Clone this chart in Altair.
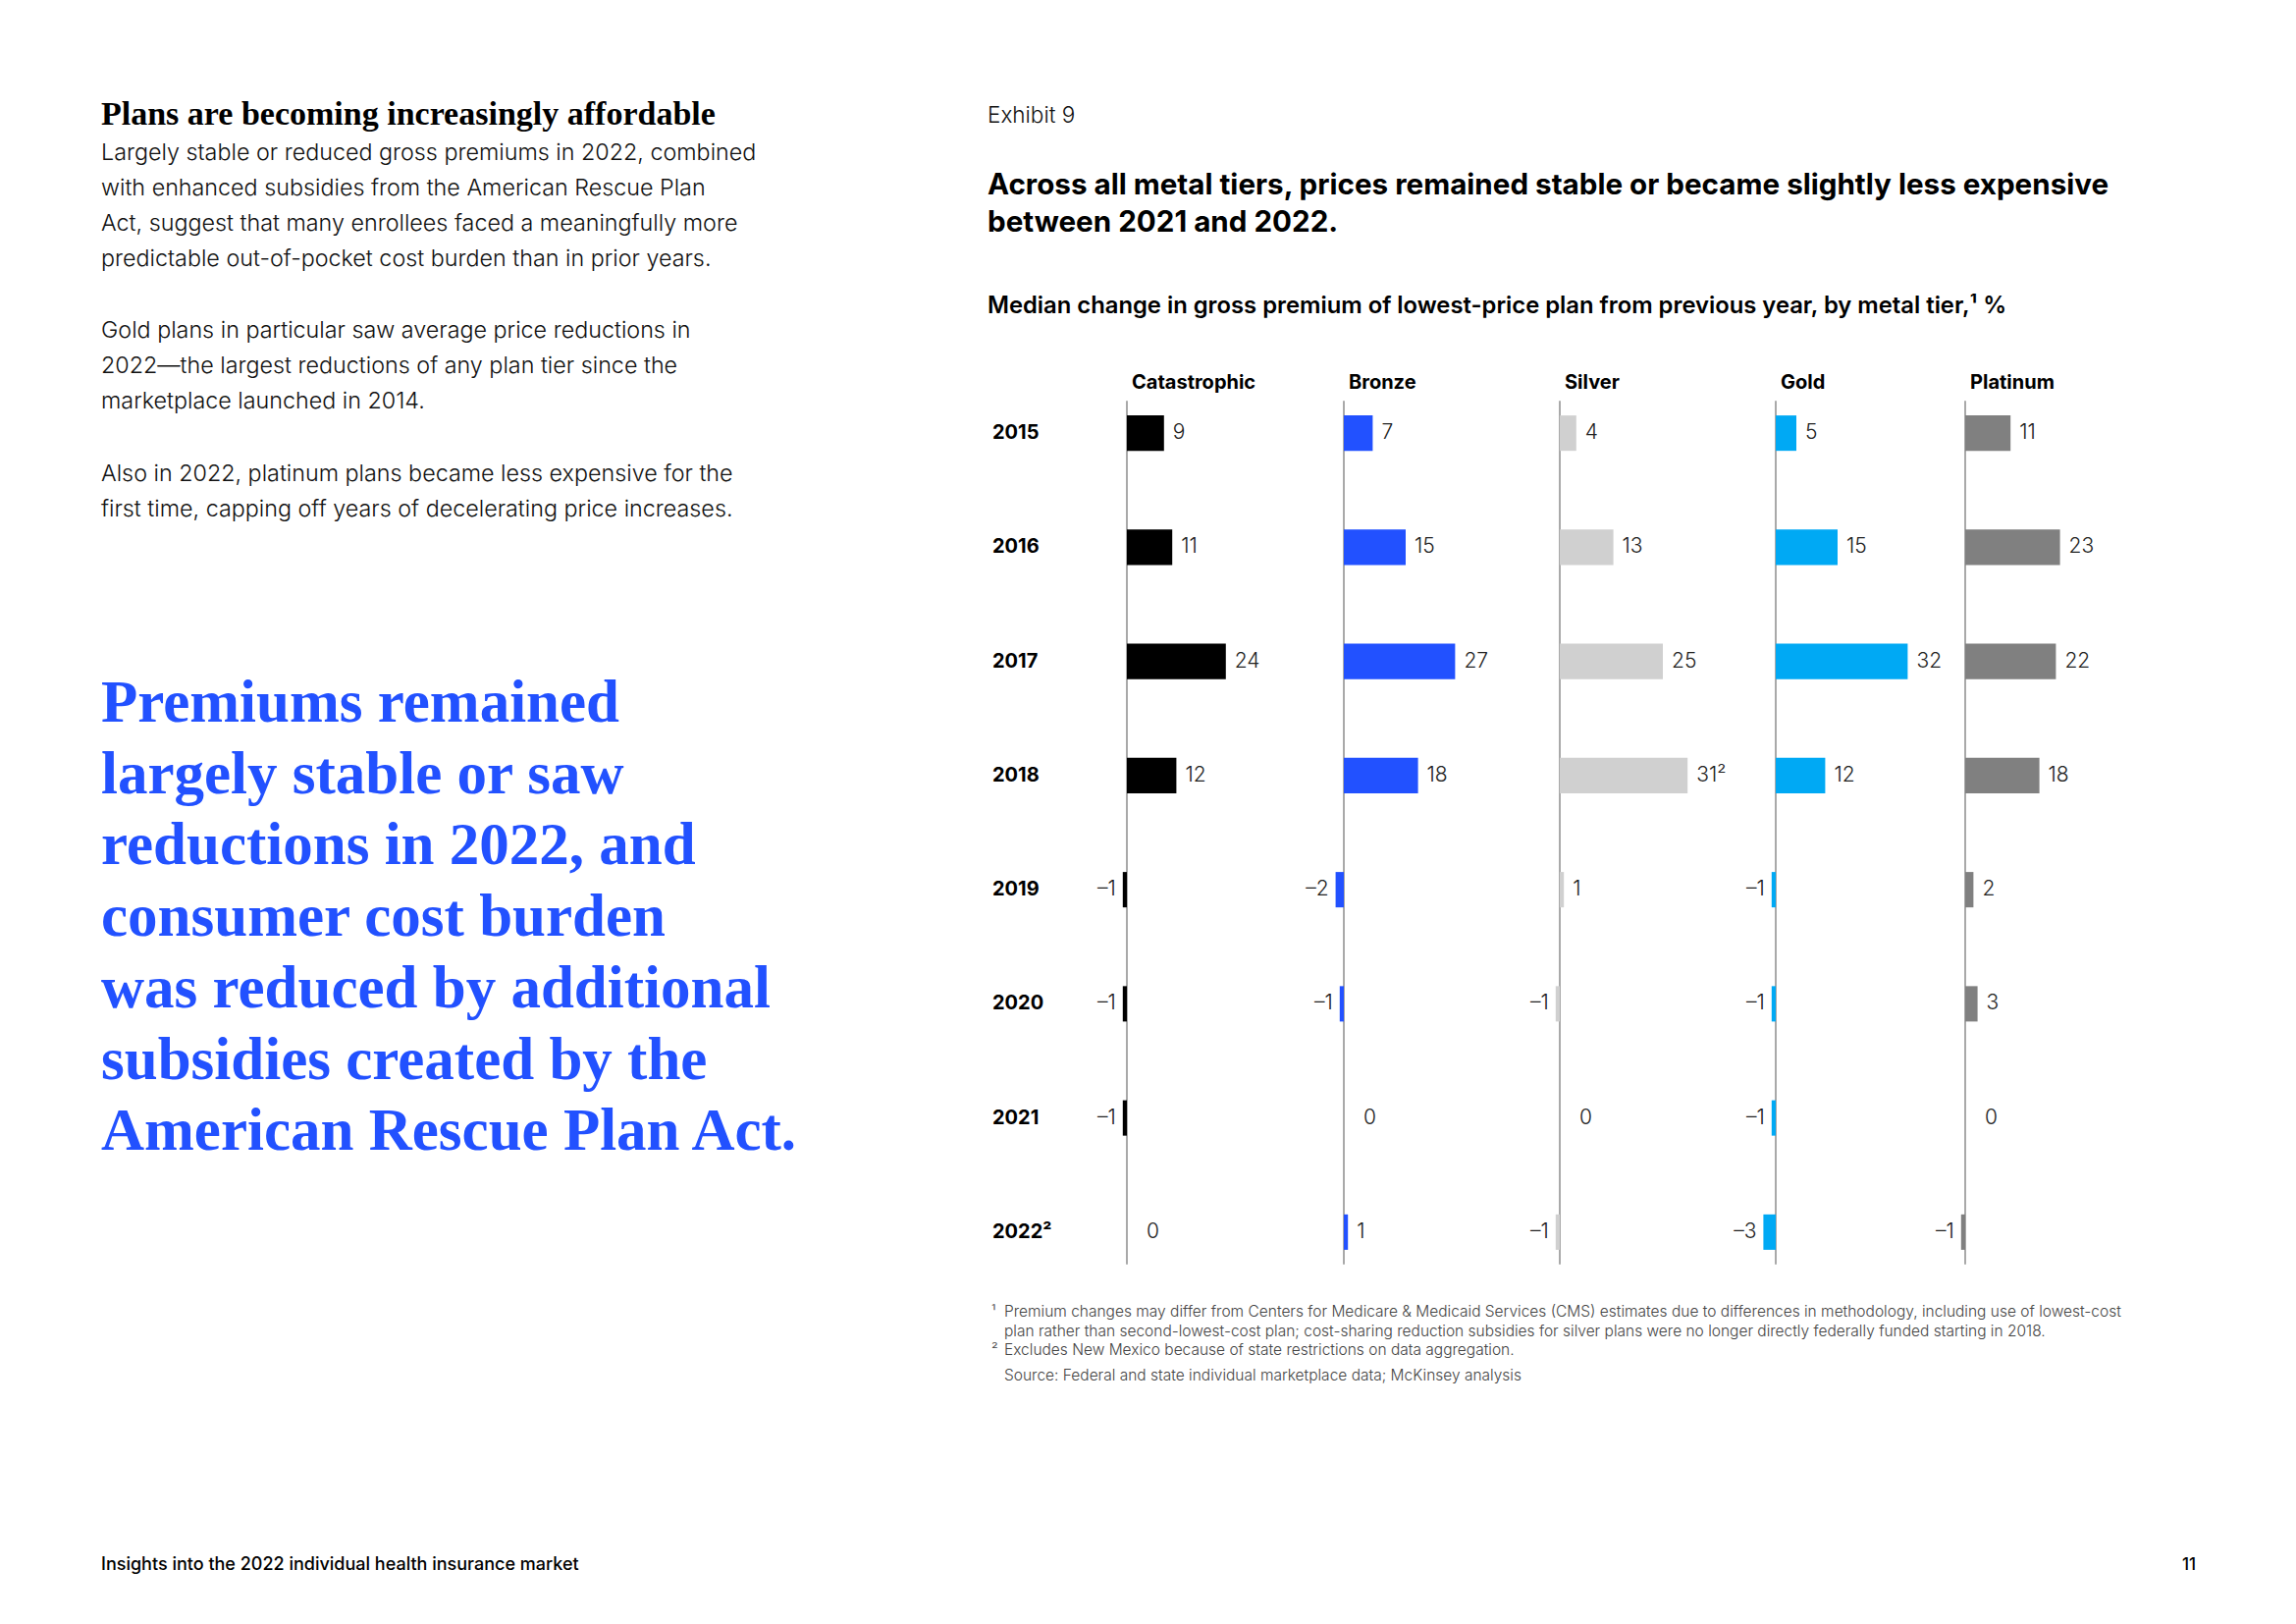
import altair as alt
import pandas as pd

# ---------------- data ----------------
tiers = ["Catastrophic", "Bronze", "Silver", "Gold", "Platinum"]
years = ["2015", "2016", "2017", "2018", "2019", "2020", "2021", "2022²"]
catastrophic = [9, 11, 24, 12, -1, -1, -1, 0]
bronze = [7, 15, 27, 18, -2, -1, 0, 1]
silver = [4, 13, 25, 31, 1, -1, 0, -1]
gold = [5, 15, 32, 12, -1, -1, -1, -3]
platinum = [11, 23, 22, 18, 2, 3, 0, -1]
tier_values = [catastrophic, bronze, silver, gold, platinum]
tier_colors = ["#000000", "#2251FF", "#D0D0D0", "#00A9F4", "#808080"]
label_notes = {("Silver", "2018"): "²"}

# ---------------- text ----------------
exhibit_label = "Exhibit 9"
title_lines = ["Across all metal tiers, prices remained stable or became slightly less expensive",
               "between 2021 and 2022."]
subtitle = "Median change in gross premium of lowest-price plan from previous year, by metal tier,¹ %"
footnote1 = ["Premium changes may differ from Centers for Medicare & Medicaid Services (CMS) estimates due to differences in methodology, including use of lowest-cost",
             "plan rather than second-lowest-cost plan; cost-sharing reduction subsidies for silver plans were no longer directly federally funded starting in 2018."]
footnote2 = "Excludes New Mexico because of state restrictions on data aggregation."
source = "Source: Federal and state individual marketplace data; McKinsey analysis"
left_heading = "Plans are becoming increasingly affordable"
para1 = ["Largely stable or reduced gross premiums in 2022, combined",
         "with enhanced subsidies from the American Rescue Plan",
         "Act, suggest that many enrollees faced a meaningfully more",
         "predictable out-of-pocket cost burden than in prior years."]
para2 = ["Gold plans in particular saw average price reductions in",
         "2022—the largest reductions of any plan tier since the",
         "marketplace launched in 2014."]
para3 = ["Also in 2022, platinum plans became less expensive for the",
         "first time, capping off years of decelerating price increases."]
pull_quote = ["Premiums remained", "largely stable or saw", "reductions in 2022, and",
              "consumer cost burden", "was reduced by additional",
              "subsidies created by the", "American Rescue Plan Act."]
footer_text = "Insights into the 2022 individual health insurance market"
page_number = "11"

SANS = "Inter"
SERIF = "Liberation Serif"
BLUE = "#2251FF"

rows = []
for t, vals in zip(tiers, tier_values):
    for y, v in zip(years, vals):
        lab = ("–" + str(-v)) if v < 0 else str(v)
        lab += label_notes.get((t, y), "")
        rows.append({"tier": t, "year": y, "value": v, "label": lab})
df = pd.DataFrame(rows)
one = pd.DataFrame({"z": [0]})

H = 1638
PX_PER_UNIT = 4.2
NEG_UNITS = 5
panel_widths = [221, 220, 220, 193, 200]
yscale = alt.Scale(type="band", domain=years, range=[400, 1280], paddingInner=0.69, paddingOuter=0.13)


def text_block(lines, x, y, size, weight=300, color="#111111", font=SANS, lh=None, align="left"):
    return alt.Chart(one).mark_text(
        text=lines, align=align, baseline="alphabetic", font=font, fontSize=size,
        fontWeight=weight, color=color, lineHeight=lh if lh else size * 1.3
    ).encode(x=alt.value(x), y=alt.value(y))


# ---------------- left column ----------------
left = alt.layer(
    text_block(left_heading, 95, 119, 34, weight="bold", font=SERIF, color="#000000"),
    text_block(para1, 95, 155, 23.3, lh=36),
    text_block(para2, 95, 336, 23.3, lh=36),
    text_block(para3, 95, 482, 23.3, lh=36),
    text_block(pull_quote, 95, 727, 61, weight="bold", font=SERIF, color=BLUE, lh=72.7),
    text_block(footer_text, 95, 1591, 18, weight=500, color="#000000"),
).properties(width=1000, height=H)

# ---------------- row labels + exhibit texts ----------------
FN = "#444444"
row_labels = alt.Chart(pd.DataFrame({"year": years})).mark_text(
    align="left", baseline="middle", font=SANS, fontSize=20, fontWeight="bold", color="#000000"
).encode(
    x=alt.value(3),
    y=alt.Y("year:N", scale=yscale, axis=None, sort=years),
    text="year:N",
)
label_panel = alt.layer(
    text_block(exhibit_label, -2, 117, 22.5, weight=300),
    text_block(title_lines, -2, 190, 29.6, weight="bold", color="#000000", lh=38),
    text_block(subtitle, -2, 311, 23.8, weight=600, color="#000000"),
    row_labels,
    text_block("¹", 2, 1333, 15.5, color=FN),
    text_block(footnote1, 15, 1333, 15.5, color=FN, lh=19.5),
    text_block("²", 2, 1372, 15.5, color=FN),
    text_block(footnote2, 15, 1372, 15.5, color=FN),
    text_block(source, 15, 1398, 15.5, color=FN),
    text_block(page_number, 1229, 1591, 17, weight=500, color="#000000", align="right"),
).properties(width=119, height=H)


def tier_panel(i):
    name = tiers[i]
    w = panel_widths[i]
    xs = alt.Scale(domain=[-NEG_UNITS, w / PX_PER_UNIT - NEG_UNITS], nice=False, zero=False)
    sub = df[df["tier"] == name]
    rule = alt.Chart(one).mark_rule(color="#8C8C8C", strokeWidth=1.5, yOffset=-33, y2Offset=33).encode(
        x=alt.X("z:Q", scale=xs, axis=None),
        y=alt.Y(datum=years[0], type="nominal", scale=yscale, axis=None),
        y2=alt.Y2(datum=years[-1]),
    )
    bars = alt.Chart(sub).mark_bar(color=tier_colors[i]).encode(
        x=alt.X("value:Q", scale=xs, axis=None),
        y=alt.Y("year:N", scale=yscale, axis=None, sort=years),
    )
    lab_kw = dict(baseline="middle", font=SANS, fontSize=21, fontWeight=300, color="#222222")
    enc = dict(x=alt.X("value:Q", scale=xs, axis=None),
               y=alt.Y("year:N", scale=yscale, axis=None, sort=years), text="label:N")
    pos = alt.Chart(sub).transform_filter("datum.value > 0").mark_text(align="left", dx=9, **lab_kw).encode(**enc)
    zer = alt.Chart(sub).transform_filter("datum.value == 0").mark_text(align="left", dx=20, **lab_kw).encode(**enc)
    neg = alt.Chart(sub).transform_filter("datum.value < 0").mark_text(align="right", dx=-7, **lab_kw).encode(**enc)
    head = alt.Chart(one).mark_text(
        text=name, align="left", baseline="middle", dx=5, font=SANS, fontSize=20,
        fontWeight="bold", color="#000000"
    ).encode(x=alt.X("z:Q", scale=xs, axis=None), y=alt.value(382))
    return alt.layer(rule, bars, pos, zer, neg, head).properties(width=w, height=H)


chart = alt.hconcat(left, label_panel, *[tier_panel(i) for i in range(len(tiers))],
                    spacing=0, bounds="flush", padding=0).configure_view(strokeWidth=0)

chart.save("out.html", embed_options={"renderer": "svg", "actions": False})
